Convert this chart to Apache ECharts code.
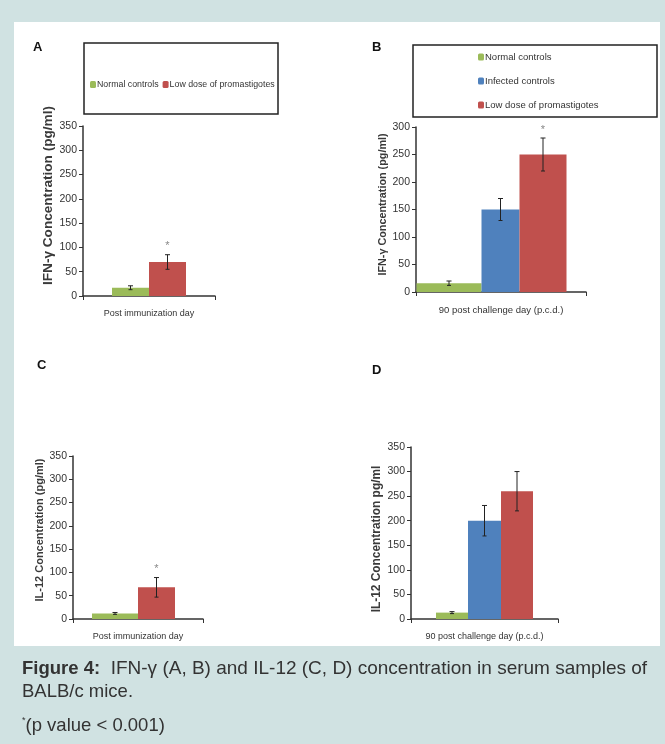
<!DOCTYPE html>
<html>
<head>
<meta charset="utf-8">
<script src="https://cdn.jsdelivr.net/npm/echarts@6/dist/echarts.min.js"></script>
<style>
  html, body { margin: 0; padding: 0; background: #d0e2e2; }
  #main { width: 665px; height: 744px; }
</style>
</head>
<body>
<div id="main"></div>
<script>
// series names
const nameN = 'Normal controls';
const nameI = 'Infected controls';
const nameL = 'Low dose of promastigotes';

// categories
const catImm = ['Post immunization day'];
const catCh = ['90 post challenge day (p.c.d.)'];

// A - IFN-y, post immunization
const ifnImmMean = [17, 70];
const ifnImmErr = [4, 15];
const ifnImmStar = [false, true];
// B - IFN-y, 90 p.c.d.
const ifnChMean = [16, 150, 250];
const ifnChErr = [4, 20, 30];
const ifnChStar = [false, false, true];
// C - IL-12, post immunization
const il12ImmMean = [12, 68];
const il12ImmErr = [2, 21];
const il12ImmStar = [false, true];
// D - IL-12, 90 p.c.d.
const il12ChMean = [13, 200, 260];
const il12ChErr = [2, 31, 40];
const il12ChStar = [false, false, false];

// y axis tops
const yMax = [350, 300, 350, 350];

const colN = '#9bbb59', colI = '#4f81bd', colL = '#c0504d';
const font = "'Liberation Sans', Arial, sans-serif";
const txt = '#333';

var chart = echarts.init(document.getElementById('main'));

// bars of one panel, widths in px, extra = empty room on the right
function makeBars(g, names, colors, means, widths, extra) {
    let out = names.map(function (n, i) {
        return {
            name: n,
            type: 'bar',
            xAxisIndex: g,
            yAxisIndex: g,
            data: [means[i]],
            barWidth: widths[i],
            barGap: '0%',
            itemStyle: { color: colors[i] },
            z: 2
        };
    });
    if (extra) {
        out.push({ name: 'spacer', type: 'bar', xAxisIndex: g, yAxisIndex: g, data: [], barWidth: extra, barGap: '0%' });
    }
    return out;
}

function makeErr(g, means, errs, stars, widths, extra) {
    let total = widths.reduce((a, b) => a + b, 0) + (extra || 0);
    let offs = [];
    let acc = -total / 2;
    widths.forEach(function (w) { offs.push(acc + w / 2); acc += w; });
    return {
        type: 'custom',
        xAxisIndex: g,
        yAxisIndex: g,
        z: 5,
        silent: true,
        data: means.map((m, i) => [0, m, errs[i], i]),
        renderItem: function (params, api) {
            let i = api.value(3);
            let x = api.coord([0, 0])[0] + offs[i];
            let yHi = api.coord([0, api.value(1) + api.value(2)])[1];
            let yLo = api.coord([0, api.value(1) - api.value(2)])[1];
            let st = { stroke: '#222', lineWidth: 1 };
            let kids = [
                { type: 'line', shape: { x1: x, y1: yHi, x2: x, y2: yLo }, style: st },
                { type: 'line', shape: { x1: x - 2.5, y1: yHi, x2: x + 2.5, y2: yHi }, style: st },
                { type: 'line', shape: { x1: x - 2, y1: yLo, x2: x + 2, y2: yLo }, style: st }
            ];
            if (stars[i]) {
                kids.push({ type: 'text', style: { text: '*', x: x, y: yHi - 3, align: 'center', verticalAlign: 'bottom', fontSize: 11, fill: '#888', fontFamily: font } });
            }
            return { type: 'group', children: kids };
        }
    };
}

const grids = [
    { left: 83, top: 126, width: 132, height: 170 },
    { left: 416, top: 127, width: 170, height: 165 },
    { left: 73, top: 456, width: 130, height: 163 },
    { left: 411, top: 447, width: 147, height: 172 }
];
const cats = [catImm, catCh, catImm, catCh];
const xSizes = [9, 9.5, 9, 9];
const yNames = ['IFN-γ Concentration (pg/ml)', 'IFN-γ Concentration (pg/ml)', 'IL-12 Concentration (pg/ml)', 'IL-12 Concentration pg/ml'];
const nameGaps = [21, 27, 22, 28];
const nameSizes = [13.6, 10.8, 11, 11.9];
// shift of the axis title along the axis
const namePads = [[0, 0, 0, 31], [0, 0, 0, 10], [0, 0, 0, 15], [0, 12, 0, 0]];

let xAxes = cats.map(function (c, g) {
    return {
        type: 'category', gridIndex: g, data: c,
        axisLine: { lineStyle: { color: '#333', width: 1.5 } },
        axisTick: { show: true, length: 4, lineStyle: { color: '#333' } },
        axisLabel: { margin: 13, fontSize: xSizes[g], color: txt, fontFamily: font }
    };
});
let yAxes = yMax.map(function (m, g) {
    return {
        type: 'value', gridIndex: g, min: 0, max: m, interval: 50,
        splitLine: { show: false },
        axisLine: { show: true, lineStyle: { color: '#333', width: 1.5 } },
        axisTick: { show: true, length: 4, lineStyle: { color: '#333' } },
        axisLabel: { margin: 6, fontSize: 10.5, color: txt, fontFamily: font },
        name: yNames[g], nameLocation: 'middle', nameGap: nameGaps[g],
        nameTextStyle: { fontSize: nameSizes[g], fontWeight: 'bold', color: '#3a3a3a', fontFamily: font, padding: namePads[g] }
    };
});

let series = [].concat(
    makeBars(0, [nameN, nameL], [colN, colL], ifnImmMean, [37, 37]),
    [makeErr(0, ifnImmMean, ifnImmErr, ifnImmStar, [37, 37])],
    makeBars(1, [nameN, nameI, nameL], [colN, colI, colL], ifnChMean, [65, 38, 47], 19),
    [makeErr(1, ifnChMean, ifnChErr, ifnChStar, [65, 38, 47], 19)],
    makeBars(2, [nameN, nameL], [colN, colL], il12ImmMean, [46, 37], 9),
    [makeErr(2, il12ImmMean, il12ImmErr, il12ImmStar, [46, 37], 9)],
    makeBars(3, [nameN, nameI, nameL], [colN, colI, colL], il12ChMean, [32, 33, 32]),
    [makeErr(3, il12ChMean, il12ChErr, il12ChStar, [32, 33, 32])]
);

function letter(t, x, y) {
    return { type: 'text', left: x, top: y, style: { text: t, fontSize: 13, fontWeight: 'bold', fill: '#111', fontFamily: font } };
}

const capFont = 18.5;

let option = {
    backgroundColor: '#d0e2e2',
    animation: false,
    legend: [
        {
            data: [nameN, nameL], left: 85, top: 75, orient: 'horizontal',
            itemWidth: 6, itemHeight: 7, itemGap: 4, selectedMode: false,
            textStyle: { fontSize: 8.8, color: txt, fontFamily: font, padding: [0, 0, 0, -4] }
        },
        {
            data: [nameN, nameI, nameL], left: 473, top: 47, orient: 'vertical',
            itemWidth: 6, itemHeight: 7, itemGap: 14, selectedMode: false,
            textStyle: { fontSize: 9.5, color: txt, fontFamily: font, padding: [0, 0, 0, -4] }
        }
    ],
    grid: grids,
    xAxis: xAxes,
    yAxis: yAxes,
    series: series,
    graphic: [
        { type: 'rect', z: -10, shape: { x: 14, y: 22, width: 646, height: 624 }, style: { fill: '#fff' } },
        { type: 'rect', z: -5, shape: { x: 84, y: 43, width: 194, height: 71 }, style: { fill: 'none', stroke: '#222', lineWidth: 1.5 } },
        { type: 'rect', z: -5, shape: { x: 413, y: 45, width: 244, height: 72 }, style: { fill: 'none', stroke: '#222', lineWidth: 1.5 } },
        letter('A', 33, 41),
        letter('B', 372, 41),
        letter('C', 37, 359),
        letter('D', 372, 364),
        {
            type: 'text', left: 22, top: 659,
            style: {
                text: '{b|Figure 4:}  IFN-γ (A, B) and IL-12 (C, D) concentration in serum samples of',
                fontSize: 19, fill: '#333', fontFamily: font,
                rich: { b: { fontSize: capFont, fontWeight: 'bold', fill: '#333', fontFamily: font } }
            }
        },
        {
            type: 'text', left: 22, top: 682,
            style: { text: 'BALB/c mice.', fontSize: capFont, fill: '#333', fontFamily: font }
        },
        {
            type: 'text', left: 22, top: 716,
            style: {
                text: '{s|*}(p value < 0.001)',
                fontSize: capFont, fill: '#333', fontFamily: font,
                rich: { s: { fontSize: 9, fill: '#333', verticalAlign: 'top', padding: [0, 0, 8, 0] } }
            }
        }
    ]
};

chart.setOption(option);
</script>
</body>
</html>
